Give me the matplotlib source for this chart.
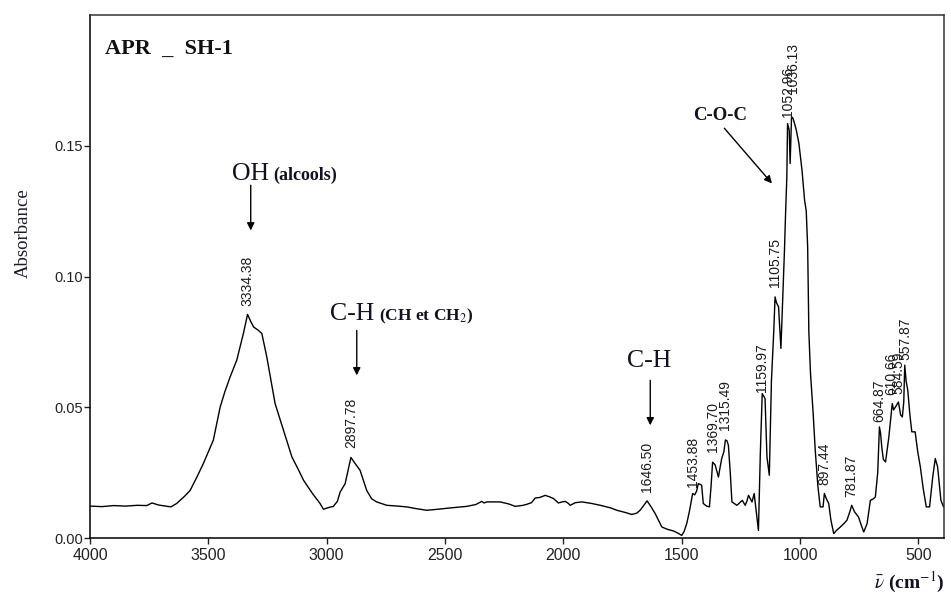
import numpy as np
import matplotlib
matplotlib.use("Agg")
import matplotlib.pyplot as plt

plt.rcParams.update({
    'font.family': 'Liberation Sans',
    'mathtext.fontset': 'stix',
})

# FTIR spectrum of sample APR_SH-1 (wavenumber in cm-1, absorbance)
wavenumber = [
    4000, 3950, 3900, 3850, 3800, 3760, 3738, 3710, 3680, 3658, 3634, 3600,
    3577, 3550, 3521, 3500, 3479, 3450, 3430, 3408, 3380, 3352, 3334.38, 3322,
    3309, 3290, 3274, 3253, 3235, 3218, 3200, 3183, 3165, 3147, 3120, 3098,
    3060, 3028, 3014, 2990, 2972, 2955, 2943, 2922, 2897.78, 2880, 2859, 2845,
    2831, 2810, 2789, 2746, 2700, 2662, 2620, 2577, 2530, 2478, 2408, 2370,
    2345, 2335, 2324, 2267, 2230, 2204, 2170, 2154, 2135, 2119, 2100, 2077,
    2060, 2042, 2021, 2005, 1992, 1980, 1971, 1950, 1922, 1880, 1844, 1800,
    1774, 1740, 1711, 1690, 1676, 1660, 1646.50, 1630, 1612, 1595, 1584, 1560,
    1535, 1515, 1500, 1490, 1479, 1468, 1460, 1453.88, 1445, 1437, 1430, 1422,
    1416, 1409, 1395, 1383, 1376, 1369.70, 1359, 1345, 1338, 1331, 1322,
    1315.49, 1309, 1303, 1295, 1288, 1275, 1267, 1255, 1244, 1232, 1225, 1218,
    1210, 1203, 1194, 1185, 1176, 1168, 1159.97, 1152, 1148, 1140, 1130, 1121,
    1111, 1105.75, 1100, 1091, 1081, 1073, 1066, 1061, 1056, 1052.96, 1046,
    1042, 1036.13, 1030, 1025, 1016, 1005, 992, 981, 974, 968, 963, 956, 945,
    936, 925, 915, 903, 897.44, 889, 879, 870, 858, 845, 830, 815, 802, 790,
    781.87, 770, 753, 740, 731, 717, 703, 690, 682, 672, 664.87, 660, 654, 648,
    639, 625, 610.66, 605, 597, 584.59, 575, 568, 562, 557.87, 552, 545, 536,
    528, 514, 503, 492, 480, 467, 453, 440, 429, 419, 405, 394, 392,
]
absorbance = [
    0.0122, 0.0120, 0.0124, 0.0122, 0.0125, 0.0124, 0.0134, 0.0126, 0.0122,
    0.0119, 0.0132, 0.0160, 0.0182, 0.0230, 0.0285, 0.0330, 0.0374, 0.0501,
    0.0560, 0.0616, 0.0680, 0.0782, 0.0855, 0.0830, 0.0807, 0.0795, 0.0782,
    0.0692, 0.0600, 0.0514, 0.0462, 0.0412, 0.0360, 0.0310, 0.0262, 0.0221,
    0.0170, 0.0132, 0.0110, 0.0117, 0.0121, 0.0140, 0.0176, 0.0208, 0.0308,
    0.0285, 0.0259, 0.0220, 0.0182, 0.0150, 0.0138, 0.0125, 0.0122, 0.0119,
    0.0112, 0.0106, 0.0110, 0.0115, 0.0121, 0.0128, 0.0140, 0.0134, 0.0138,
    0.0138, 0.0130, 0.0121, 0.0125, 0.0129, 0.0135, 0.0153, 0.0155, 0.0163,
    0.0158, 0.0151, 0.0134, 0.0138, 0.0140, 0.0133, 0.0125, 0.0135, 0.0138,
    0.0132, 0.0125, 0.0115, 0.0106, 0.0098, 0.0090, 0.0095, 0.0106, 0.0125,
    0.0142, 0.0120, 0.0093, 0.0062, 0.0042, 0.0033, 0.0027, 0.0018, 0.0010,
    0.0025, 0.0055, 0.0100, 0.0140, 0.0170, 0.0165, 0.0180, 0.0208, 0.0205,
    0.0202, 0.0132, 0.0122, 0.0119, 0.0200, 0.0290, 0.0280, 0.0233, 0.0270,
    0.0304, 0.0330, 0.0375, 0.0372, 0.0355, 0.0250, 0.0138, 0.0130, 0.0125,
    0.0135, 0.0144, 0.0125, 0.0140, 0.0163, 0.0150, 0.0138, 0.0170, 0.0100,
    0.0029, 0.0323, 0.0552, 0.0540, 0.0533, 0.0310, 0.0240, 0.0603, 0.0795,
    0.0922, 0.0900, 0.0884, 0.0725, 0.0922, 0.1100, 0.1250, 0.1380, 0.1585,
    0.1560, 0.1432, 0.1611, 0.1605, 0.1590, 0.1560, 0.1509, 0.1407, 0.1292,
    0.1250, 0.1113, 0.0788, 0.0629, 0.0480, 0.0336, 0.0200, 0.0119, 0.0119,
    0.0170, 0.0150, 0.0132, 0.0070, 0.0017, 0.0030, 0.0042, 0.0055, 0.0068,
    0.0100, 0.0125, 0.0100, 0.0080, 0.0045, 0.0023, 0.0055, 0.0144, 0.0150,
    0.0157, 0.0250, 0.0425, 0.0400, 0.0340, 0.0300, 0.0291, 0.0386, 0.0514,
    0.0490, 0.0501, 0.0520, 0.0470, 0.0463, 0.0520, 0.0661, 0.0600, 0.0565,
    0.0470, 0.0406, 0.0406, 0.0330, 0.0272, 0.0190, 0.0119, 0.0119, 0.0230,
    0.0304, 0.0272, 0.0144, 0.0119, 0.0125,
]

# labelled peak positions (cm-1)
peak_wn = [3334.38, 2897.78, 1646.50, 1453.88, 1369.70, 1315.49, 1159.97,
           1105.75, 1052.96, 1036.13, 897.44, 781.87, 664.87, 610.66, 584.59,
           557.87]

wn = np.array(wavenumber)
ab = np.array(absorbance)

fig = plt.figure(figsize=(9.51, 5.97), dpi=100)
ax = fig.add_axes([90 / 951, 59 / 597, 854 / 951, 523 / 597])

ax.plot(wn, ab, color='black', lw=1.0)

ax.set_xlim(4000, 392)
ax.set_ylim(0, 0.2)
ax.set_xticks([4000, 3500, 3000, 2500, 2000, 1500, 1000, 500])
ax.set_yticks([0.0, 0.05, 0.10, 0.15])
ax.set_yticklabels(['0.00', '0.05', '0.10', '0.15'])
ax.tick_params(axis='both', direction='out', length=4, width=1, pad=1,
               colors='#222222')
ax.tick_params(axis='x', labelsize=11.5, pad=3)
ax.tick_params(axis='y', labelsize=10.5)
for side in ['left', 'bottom']:
    ax.spines[side].set_color('black')
    ax.spines[side].set_linewidth(1.1)
for side in ['top', 'right']:
    ax.spines[side].set_color('#333333')
    ax.spines[side].set_linewidth(1.1)

# peak labels sit just above each maximum; crowded ones get nudged
gaps = [0.0034, 0.0035, 0.0034, 0.0025, 0.0040, 0.0037, 0.0008, 0.0038,
        0.0026, 0.0090, 0.0032, 0.0032, 0.0020, 0.0031, 0.0030, 0.0020]
nudge = {1036.13: -6, 610.66: 4, 584.59: 0, 557.87: -4}
order = np.argsort(wn)
for w, g in zip(peak_wn, gaps):
    y = np.interp(w, wn[order], ab[order])
    ax.text(w + nudge.get(w, 0), y + g, f'{w:.2f}', rotation=90,
            ha='center', va='bottom', fontsize=10, color='#1a1a1a')

serif = 'Liberation Serif'
arrow = dict(arrowstyle='-|>', color='black', lw=1.0, mutation_scale=11,
             shrinkA=0, shrinkB=0)

ax.text(0.018, 0.955, 'APR  _  SH-1', transform=ax.transAxes, family=serif,
        fontsize=16, fontweight='bold', ha='left', va='top', color='#111111')

# band assignments
ax.text(3400, 0.1368, 'OH', family=serif, fontsize=18.5, color='#111122')
ax.text(3225, 0.1368, '(alcools)', family=serif, fontsize=13,
        fontweight='bold', color='#111122')
ax.annotate('', xy=(3321, 0.1176), xytext=(3321, 0.1349), arrowprops=arrow)

ax.text(2986, 0.0833, 'C-H', family=serif, fontsize=18.5, color='#111122')
ax.text(2780, 0.0833, r'(CH et CH$_2$)', family=serif, fontsize=12.5,
        fontweight='bold', color='#111122')
ax.annotate('', xy=(2873, 0.0622), xytext=(2873, 0.0794), arrowprops=arrow)

ax.text(1730, 0.0653, 'C-H', family=serif, fontsize=18.5, color='#111122')
ax.annotate('', xy=(1633, 0.0431), xytext=(1633, 0.0603), arrowprops=arrow)

ax.text(1453, 0.1598, 'C-O-C', family=serif, fontsize=13.5,
        fontweight='bold', color='#111122')
ax.annotate('', xy=(1119, 0.1356), xytext=(1320, 0.1567), arrowprops=arrow)

fig.text(23 / 951, 1 - 233 / 597, 'Absorbance', family=serif, fontsize=13.5,
         rotation=90, ha='center', va='center', color='#1a1a2a')
fig.text(945 / 951, 1 - 582 / 597, r'$\bar{\nu}$ (cm$^{-1}$)', family=serif,
         fontsize=14, fontweight='bold', ha='right', va='center',
         color='#111122')

fig.savefig('out.png', dpi=100)
